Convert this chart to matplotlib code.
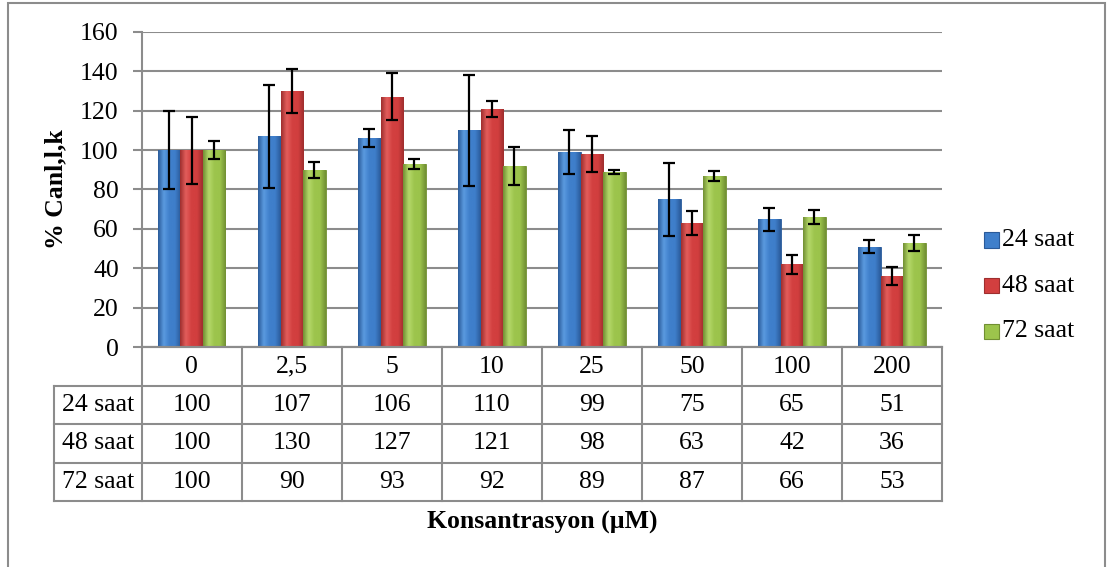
import matplotlib
matplotlib.use("Agg")
import matplotlib.pyplot as plt
import numpy as np
from matplotlib.patches import Rectangle
from matplotlib.colors import LinearSegmentedColormap

plt.rcParams['font.family'] = ['Liberation Serif', 'DejaVu Serif']

categories = ["0", "2,5", "5", "10", "25", "50", "100", "200"]
series_names = ["24 saat", "48 saat", "72 saat"]
v24 = [100, 107, 106, 110, 99, 75, 65, 51]
v48 = [100, 130, 127, 121, 98, 63, 42, 36]
v72 = [100, 90, 93, 92, 89, 87, 66, 53]
e24 = [20, 26, 4.5, 28, 11, 18.5, 5.8, 3.2]
e48 = [17, 11, 12, 4, 9, 6.3, 4.7, 4.6]
e72 = [4.5, 4, 2.5, 9.5, 1, 2.6, 3.4, 4]
yticks = [0, 20, 40, 60, 80, 100, 120, 140, 160]

values = [v24, v48, v72]
errors = [e24, e48, e72]
base_colors = ["#3F7FCB", "#D23F3F", "#9CC44C"]
dark_colors = ["#2A5A99", "#9E2E2E", "#718F33"]
light_colors = ["#5B9BE0", "#E35E5C", "#B5D86A"]

W, H = 1112, 567
fig = plt.figure(figsize=(W / 100, H / 100), dpi=100)

# outer frame
fig.patches.append(Rectangle((8 / W, -0.05), (1105 - 8) / W, 1.05 - 3 / H,
                             transform=fig.transFigure, fill=False,
                             edgecolor="#8c8c8c", linewidth=1.5))

ax_l, ax_r, ax_t, ax_b = 141.7, 942, 31.7, 347.3
ax = fig.add_axes([ax_l / W, 1 - ax_b / H, (ax_r - ax_l) / W, (ax_b - ax_t) / H])

x = np.arange(len(categories))
bw = 0.225
offsets = [-bw, 0, bw]

for i in range(3):
    bars = ax.bar(x + offsets[i], values[i], width=bw, color=base_colors[i],
                  edgecolor=dark_colors[i], linewidth=0.6, zorder=2)
    cmap = LinearSegmentedColormap.from_list(
        "g%d" % i, [dark_colors[i], light_colors[i], base_colors[i],
                    base_colors[i], dark_colors[i]])
    grad = np.linspace(0, 1, 64).reshape(1, -1)
    for b in bars:
        x0, y0 = b.get_x(), b.get_y()
        w, h = b.get_width(), b.get_height()
        im = ax.imshow(grad, cmap=cmap, aspect="auto",
                       extent=[x0, x0 + w, y0, y0 + h], zorder=2.1,
                       interpolation="bicubic")
        im.set_clip_path(b)
    ax.errorbar(x + offsets[i], values[i], yerr=errors[i], fmt="none",
                ecolor="black", elinewidth=1.6, capsize=4.5, capthick=1.6,
                zorder=4)

ax.set_xlim(-0.5, len(categories) - 0.5)
ax.set_ylim(0, 160)
ax.set_yticks(yticks)
ax.set_yticklabels([str(t) for t in yticks], fontsize=18.5)
ax.set_xticks([])
ax.yaxis.grid(True, color="#8c8c8c", linewidth=1.5, zorder=0)
ax.set_axisbelow(True)
ax.tick_params(axis="y", length=6.5, width=1.5, color="#8c8c8c", pad=10)
for s in ["top", "right"]:
    ax.spines[s].set_visible(False)
ax.spines["left"].set_color("#8c8c8c")
ax.spines["left"].set_linewidth(1.5)
ax.spines["bottom"].set_color("#8c8c8c")
ax.spines["bottom"].set_linewidth(1.5)

ax.set_ylabel("% Canl,l,k", fontsize=18.5, fontweight="bold")
ax.yaxis.set_label_coords((67 - ax_l) / (ax_r - ax_l), 0.5)

# data table
tb_l, tb_b = 54, 501
row_lbl_w = (ax_l - tb_l) / 100.0  # in category units
tax = fig.add_axes([tb_l / W, 1 - tb_b / H, (ax_r - tb_l) / W, (tb_b - ax_b) / H])
tax.set_xlim(-0.5 - row_lbl_w, len(categories) - 0.5)
tax.set_ylim(4, 0)
tax.axis("off")
gc = "#8c8c8c"
lw = 1.5
xl = -0.5 - row_lbl_w
xr = len(categories) - 0.5
tax.plot([-0.5, xr], [0, 0], color=gc, lw=lw, clip_on=False)
for r in [1, 2, 3, 4]:
    tax.plot([xl, xr], [r, r], color=gc, lw=lw, clip_on=False)
tax.plot([xl, xl], [1, 4], color=gc, lw=lw, clip_on=False)
for k in range(len(categories) + 1):
    tax.plot([k - 0.5, k - 0.5], [0, 4], color=gc, lw=lw, clip_on=False)
for k, c in enumerate(categories):
    tax.text(k, 0.5, c, ha="center", va="center", fontsize=18.5)
for r in range(3):
    tax.text(xl + row_lbl_w / 2, r + 1.5, series_names[r], ha="center",
             va="center", fontsize=18.5)
    for k in range(len(categories)):
        tax.text(k, r + 1.5, str(values[r][k]), ha="center", va="center",
                 fontsize=18.5)

fig.text(542 / W, 1 - 522 / H, "Konsantrasyon (µM)", ha="center", va="center",
         fontsize=18.5, fontweight="bold")

# legend
lx = 984
for i, name in enumerate(series_names):
    yc = 240 + 45.5 * i
    fig.patches.append(Rectangle((lx / W, 1 - (yc + 7.5) / H), 15 / W, 15 / H,
                                 transform=fig.transFigure,
                                 facecolor=base_colors[i],
                                 edgecolor=dark_colors[i], linewidth=0.8))
    fig.text((lx + 18) / W, 1 - yc / H, name, ha="left", va="center",
             fontsize=18.5)

fig.savefig("out.png", dpi=100)
